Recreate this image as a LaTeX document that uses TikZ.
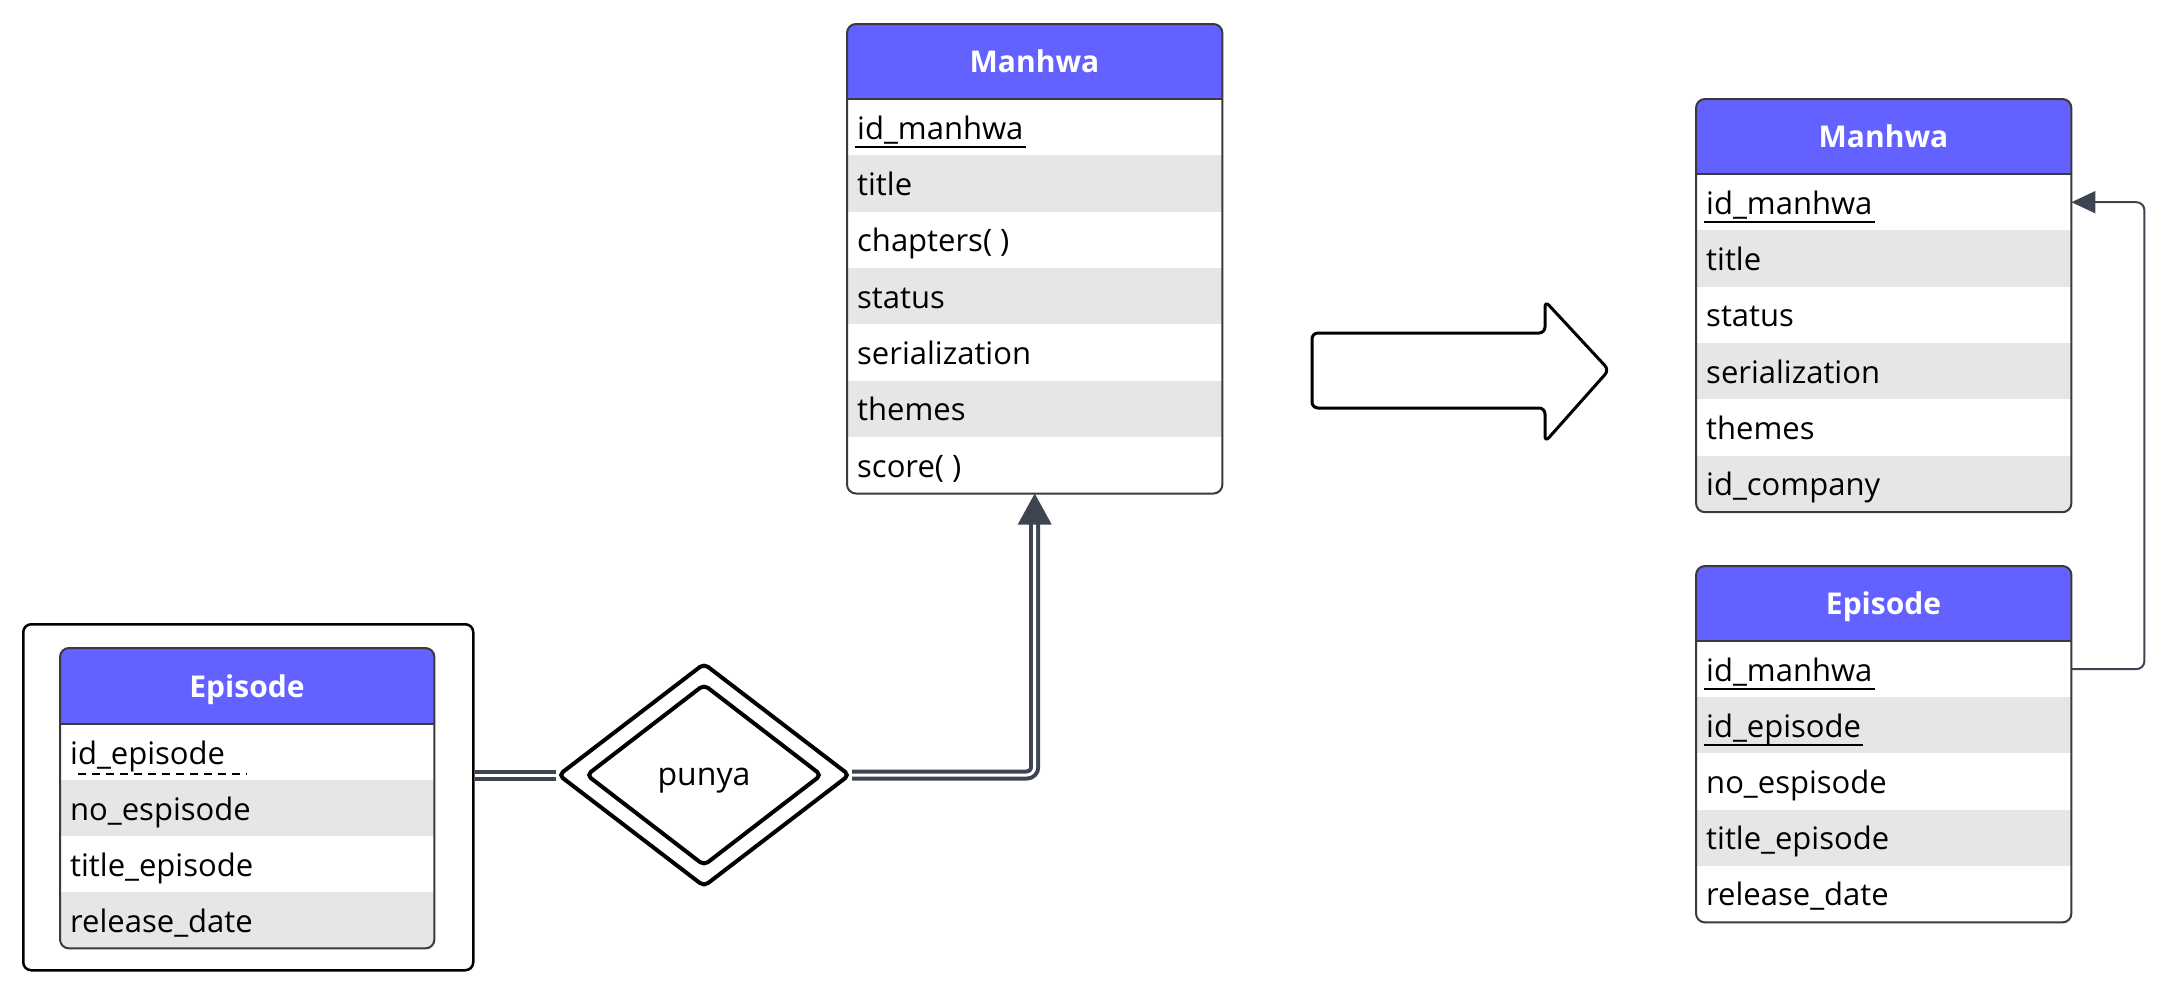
\documentclass[tikz,border=0pt]{standalone}
\usepackage{fontspec}
\setmainfont{Open Sans}
\usepackage{tikz}
\usetikzlibrary{shapes.geometric, arrows.meta, calc}

\definecolor{hdrblue}{HTML}{6361FF}
\definecolor{rowgray}{HTML}{E6E6E6}
\definecolor{edgegray}{HTML}{3A3A3A}
\definecolor{linkgray}{HTML}{3E4551}

\begin{document}
\begin{tikzpicture}[x=1pt, y=-1pt,
    tbl/.style={inner sep=0pt, minimum width=375pt, anchor=north west},
    tbledge/.style={edgegray, line width=2pt, rounded corners=9pt},
    hdr/.style={text=white, text height=22pt, text depth=0pt, font=\fontsize{30}{36}\selectfont\bfseries},
    attr/.style={anchor=west, inner xsep=10pt, inner ysep=2pt, text height=24pt, text depth=0pt, font=\fontsize{31}{36}\selectfont},
    keyline/.style={black, line width=2pt},
    dbl/.style={linkgray, line width=4pt, double=white, double distance=3pt},
    fk/.style={linkgray, line width=2pt, rounded corners=8pt, -{Triangle[width=22pt,length=24pt]}}
]

\useasboundingbox (0,0) rectangle (2182,994);

% Manhwa, before
\node[tbl, minimum height=469.1pt] (manhwaL) at (847,24) {};

\begin{scope}
    \clip[rounded corners=9pt] (manhwaL.north west) rectangle (manhwaL.south east);
    \fill[white] (manhwaL.north west) rectangle (manhwaL.south east);
    \fill[hdrblue] (847,24) rectangle (1222,99);
    \fill[rowgray] (847,155.3) rectangle (1222,211.6);
    \fill[rowgray] (847,267.9) rectangle (1222,324.2);
    \fill[rowgray] (847,380.5) rectangle (1222,436.8);
\end{scope}

\draw[tbledge] (manhwaL.north west) rectangle (manhwaL.south east);

\draw[edgegray, line width=2pt] (847,99) -- (1222,99);

\node[hdr] (manhwaLh) at (1034.5,61.5) {Manhwa};
\node[attr] (mL1) at (847,127.2) {id\_manhwa};
\node[attr] (mL2) at (847,183.5) {title};
\node[attr] (mL3) at (847,239.8) {chapters( )};
\node[attr] (mL4) at (847,296.1) {status};
\node[attr] (mL5) at (847,352.4) {serialization};
\node[attr] (mL6) at (847,408.7) {themes};
\node[attr] (mL7) at (847,465.0) {score( )};

\draw[keyline] ($(mL1.base west)+(8,8)$) -- ($(mL1.base east)+(-8,8)$);

% Episode, weak entity
\node[draw, line width=2.5pt, rounded corners=8pt, inner sep=0pt, minimum width=450pt, minimum height=346pt, anchor=north west] (weakbox) at (22,623) {};

\node[tbl, minimum width=374pt, minimum height=300pt] (episodeL) at (60,648) {};

\begin{scope}
    \clip[rounded corners=9pt] (episodeL.north west) rectangle (episodeL.south east);
    \fill[white] (episodeL.north west) rectangle (episodeL.south east);
    \fill[hdrblue] (60,648) rectangle (434,724);
    \fill[rowgray] (60,780) rectangle (434,836);
    \fill[rowgray] (60,892) rectangle (434,948);
\end{scope}

\draw[tbledge] (episodeL.north west) rectangle (episodeL.south east);

\draw[edgegray, line width=2pt] (60,724) -- (434,724);

\node[hdr] (episodeLh) at (247,686) {Episode};
\node[attr] (eL1) at (60,752) {id\_episode};
\node[attr] (eL2) at (60,808) {no\_espisode};
\node[attr] (eL3) at (60,864) {title\_episode};
\node[attr] (eL4) at (60,920) {release\_date};

\draw[line width=1.4pt, dash pattern=on 8pt off 6pt] ($(eL1.base west)+(18,10)$) -- ($(eL1.base east)+(12,10)$);

% relationship
\node[diamond, draw, line width=4pt, rounded corners=5pt, inner sep=0pt, minimum width=292pt, minimum height=224pt] (punyaO) at (704,775) {};

\node[diamond, draw, line width=4pt, rounded corners=5pt, inner sep=0pt, minimum width=236pt, minimum height=182pt, text height=20pt, text depth=0pt, font=\fontsize{32}{36}\selectfont] (punya) at (704,775) {punya};

\draw[dbl] (punyaO.west) -- (punyaO.west -| weakbox.east);

\coordinate (mLfoot) at ($(manhwaL.south)+(0,30)$);

\draw[dbl, rounded corners=8pt] (punyaO.east) -| (mLfoot);

\fill[linkgray] (manhwaL.south) -- ++(17,31) -- ++(-34,0) -- cycle;

% big arrow
\draw[line width=3pt, rounded corners=6pt] (1312,333) -- (1545,333) -- (1545,301) -- (1609,370) -- (1545,442) -- (1545,408) -- (1312,408) -- cycle;

% Manhwa, after
\node[tbl, minimum height=412.8pt] (manhwaR) at (1696,99) {};

\begin{scope}
    \clip[rounded corners=9pt] (manhwaR.north west) rectangle (manhwaR.south east);
    \fill[white] (manhwaR.north west) rectangle (manhwaR.south east);
    \fill[hdrblue] (1696,99) rectangle (2071,174);
    \fill[rowgray] (1696,230.3) rectangle (2071,286.6);
    \fill[rowgray] (1696,342.9) rectangle (2071,399.2);
    \fill[rowgray] (1696,455.5) rectangle (2071,511.8);
\end{scope}

\draw[tbledge] (manhwaR.north west) rectangle (manhwaR.south east);

\draw[edgegray, line width=2pt] (1696,174) -- (2071,174);

\node[hdr] (manhwaRh) at (1883.5,136.5) {Manhwa};
\node[attr] (mR1) at (1696,202.2) {id\_manhwa};
\node[attr] (mR2) at (1696,258.5) {title};
\node[attr] (mR3) at (1696,314.8) {status};
\node[attr] (mR4) at (1696,371.1) {serialization};
\node[attr] (mR5) at (1696,427.4) {themes};
\node[attr] (mR6) at (1696,483.7) {id\_company};

\draw[keyline] ($(mR1.base west)+(8,8)$) -- ($(mR1.base east)+(-8,8)$);

% Episode, after
\node[tbl, minimum height=356pt] (episodeR) at (1696,566) {};

\begin{scope}
    \clip[rounded corners=9pt] (episodeR.north west) rectangle (episodeR.south east);
    \fill[white] (episodeR.north west) rectangle (episodeR.south east);
    \fill[hdrblue] (1696,566) rectangle (2071,641);
    \fill[rowgray] (1696,697.2) rectangle (2071,753.4);
    \fill[rowgray] (1696,809.6) rectangle (2071,865.8);
\end{scope}

\draw[tbledge] (episodeR.north west) rectangle (episodeR.south east);

\draw[edgegray, line width=2pt] (1696,641) -- (2071,641);

\node[hdr] (episodeRh) at (1883.5,603.5) {Episode};
\node[attr] (eR1) at (1696,669.1) {id\_manhwa};
\node[attr] (eR2) at (1696,725.3) {id\_episode};
\node[attr] (eR3) at (1696,781.5) {no\_espisode};
\node[attr] (eR4) at (1696,837.7) {title\_episode};
\node[attr] (eR5) at (1696,893.9) {release\_date};

\draw[keyline] ($(eR1.base west)+(8,8)$) -- ($(eR1.base east)+(-8,8)$);

\draw[keyline] ($(eR2.base west)+(8,8)$) -- ($(eR2.base east)+(-8,8)$);

\draw[fk] (eR1 -| episodeR.east) -- ++(73,0) |- (mR1 -| manhwaR.east);

\end{tikzpicture}
\end{document}
